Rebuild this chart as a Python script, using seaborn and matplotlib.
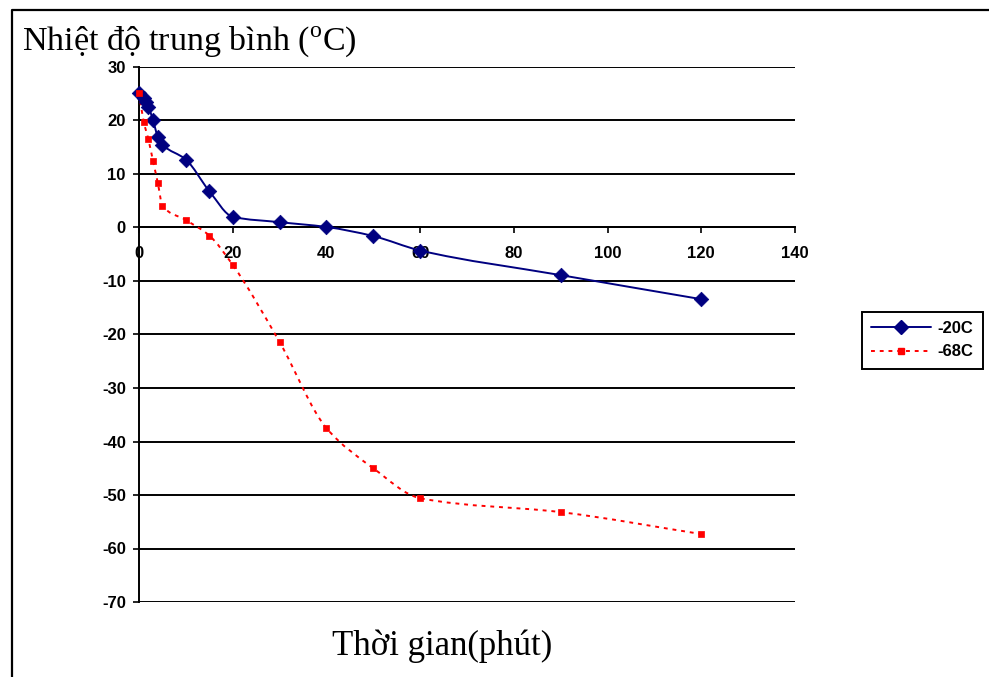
import numpy as np
import pandas as pd
import matplotlib
matplotlib.use("Agg")
import matplotlib.pyplot as plt
import seaborn as sns
from matplotlib.path import Path
from matplotlib.patches import PathPatch
from matplotlib.lines import Line2D

# Cooling curves: mean temperature (°C) against time (minutes)
time_20 = [0, 1, 1.5, 2, 3, 4, 5, 10, 15, 20, 30, 40, 50, 60, 90, 120]
temp_20 = [25.2, 24.2, 23.5, 22.6, 20.0, 17.0, 15.5, 12.7, 6.8, 2.0, 1.0, 0.1, -1.6, -4.3, -8.9, -13.4]

time_68 = [0, 1, 2, 3, 4, 5, 10, 15, 20, 30, 40, 50, 60, 90, 120]
temp_68 = [25.2, 19.8, 16.5, 12.4, 8.4, 4.1, 1.4, -1.5, -7.0, -21.4, -37.5, -45.0, -50.6, -53.2, -57.3]

series_names = ["-20C", "-68C"]
x_ticks = [0, 20, 40, 60, 80, 100, 120, 140]
y_ticks = list(range(-70, 31, 10))

df = pd.concat([
    pd.DataFrame({"t": time_20, "temp": temp_20, "series": series_names[0]}),
    pd.DataFrame({"t": time_68, "temp": temp_68, "series": series_names[1]}),
], ignore_index=True)

sns.set_theme(style="white")
plt.rcParams["font.family"] = ["Liberation Sans", "DejaVu Sans"]
plt.rcParams["text.color"] = "black"
plt.rcParams["axes.labelcolor"] = "black"
plt.rcParams["xtick.color"] = "black"
plt.rcParams["ytick.color"] = "black"

BLUE = "#000080"
RED = "#ff0000"

W, H = 989, 677
fig = plt.figure(figsize=(W / 100, H / 100), dpi=100)
ax = fig.add_axes([139 / W, 1 - 602 / H, (795 - 139) / W, (602 - 67) / H])


def smooth_path(xs, ys):
    """Smoothed line through the points: monotone cubic segments as Beziers."""
    x = np.asarray(xs, float)
    y = np.asarray(ys, float)
    h = np.diff(x)
    d = np.diff(y) / h
    n = len(x)
    m = np.zeros(n)
    m[0], m[-1] = d[0], d[-1]
    for i in range(1, n - 1):
        if d[i - 1] * d[i] <= 0:
            m[i] = 0.0
        else:
            w1 = 2 * h[i] + h[i - 1]
            w2 = h[i] + 2 * h[i - 1]
            m[i] = (w1 + w2) / (w1 / d[i - 1] + w2 / d[i])
    verts = [(x[0], y[0])]
    codes = [Path.MOVETO]
    for i in range(n - 1):
        verts += [(x[i] + h[i] / 3, y[i] + m[i] * h[i] / 3),
                  (x[i + 1] - h[i] / 3, y[i + 1] - m[i + 1] * h[i] / 3),
                  (x[i + 1], y[i + 1])]
        codes += [Path.CURVE4] * 3
    return Path(verts, codes)


DASH = (0, (2, 2.5))
ax.add_patch(PathPatch(smooth_path(time_20, temp_20), fill=False,
                       edgecolor=BLUE, lw=1.4, zorder=3))
ax.add_patch(PathPatch(smooth_path(time_68, temp_68), fill=False,
                       edgecolor=RED, lw=1.4, linestyle=DASH, zorder=3))

sns.scatterplot(data=df[df.series == series_names[0]], x="t", y="temp",
                marker="D", s=55, color=BLUE, edgecolor=BLUE, linewidth=0.5,
                ax=ax, zorder=4, legend=False, clip_on=False)
sns.scatterplot(data=df[df.series == series_names[1]], x="t", y="temp",
                marker="s", s=22, color=RED, edgecolor=RED, linewidth=0.5,
                ax=ax, zorder=5, legend=False, clip_on=False)

ax.set_xlim(0, 140)
ax.set_ylim(-70, 30)
ax.set_xlabel("")
ax.set_ylabel("")

# Horizontal gridlines at every 10 degrees
ax.set_yticks(y_ticks)
ax.set_yticklabels([str(v) for v in y_ticks])
ax.yaxis.grid(True, color="black", lw=1.4)
ax.xaxis.grid(False)
ax.set_axisbelow(True)

ax.set_xticks(x_ticks)
ax.set_xticklabels([str(v) for v in x_ticks])

for side in ("top", "right"):
    ax.spines[side].set_visible(False)
ax.spines["left"].set_color("black")
ax.spines["left"].set_linewidth(1.4)
ax.spines["bottom"].set_position(("data", 0))
ax.spines["bottom"].set_color("black")
ax.spines["bottom"].set_linewidth(1.4)

ax.tick_params(axis="y", which="major", left=True, direction="out", length=4.5,
               width=1.2, color="black", pad=5, labelsize=12, labelcolor="black")
ax.tick_params(axis="x", which="major", bottom=True, direction="out", length=4,
               width=1.2, color="black", pad=9, labelsize=12, labelcolor="black")
for lab in ax.get_xticklabels() + ax.get_yticklabels():
    lab.set_fontweight("bold")
for lab in ax.get_xticklabels():
    lab.set_zorder(10)

# Titles
fig.text(22 / W, 1 - 50 / H, r"Nhiệt độ trung bình ($^{\mathregular{o}}$C)",
         fontfamily="Liberation Serif", fontsize=24.5, ha="left", va="baseline",
         color="black")
fig.text(442 / W, 1 - 655 / H, "Thời gian(phút)",
         fontfamily="Liberation Serif", fontsize=25, ha="center", va="baseline",
         color="black")

# Legend
handles = [
    Line2D([], [], color=BLUE, lw=1.4, marker="D", markersize=7.5),
    Line2D([], [], color=RED, lw=1.4, linestyle=DASH, marker="s", markersize=5),
]
leg = fig.legend(handles, series_names, loc="upper left",
                 bbox_to_anchor=(862 / W, 1 - 312 / H), frameon=True,
                 fancybox=False, edgecolor="black", framealpha=1,
                 prop={"weight": "bold", "size": 12}, handlelength=3.6,
                 borderpad=0.55, labelspacing=0.5, handletextpad=0.4,
                 borderaxespad=0)
leg.get_frame().set_linewidth(1.4)

# Chart-area border (left and top edges)
fig.add_artist(Line2D([11.5 / W, 11.5 / W, 1.01], [-0.01, 1 - 10 / H, 1 - 10 / H],
                      transform=fig.transFigure, color="black", lw=1.6))

fig.savefig("out.png", dpi=100)
